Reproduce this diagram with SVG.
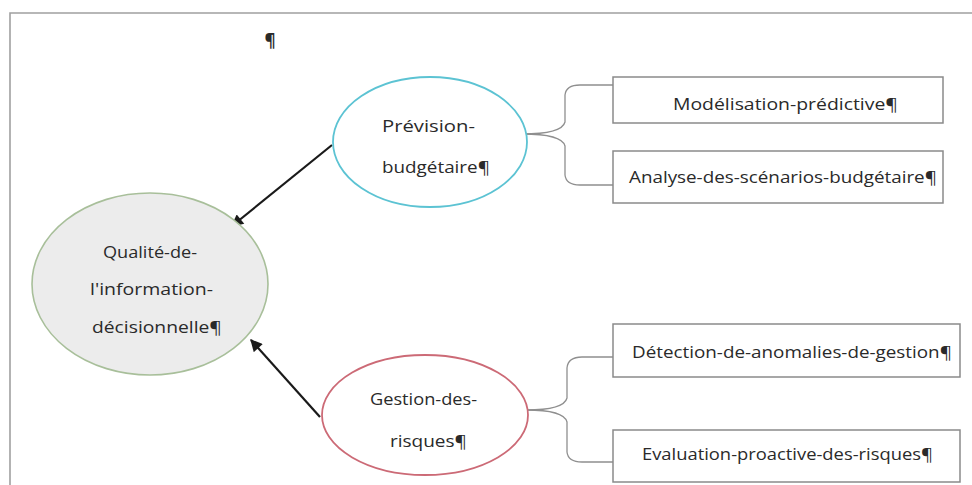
<svg xmlns="http://www.w3.org/2000/svg" width="972" height="485" viewBox="0 0 972 485">
<defs>
<marker id="ah" viewBox="0 0 10 10" refX="9" refY="5" markerWidth="6" markerHeight="5.5" orient="auto" markerUnits="strokeWidth">
<path d="M0,0 L10,5 L0,10 z" fill="#1a1a1a"/>
</marker>
<style>
text{font-family:"Open Sans","Noto Sans","Liberation Sans",sans-serif;font-size:17px;fill:#2a2a2a;}
.box{fill:#fff;stroke:#8a8a8a;stroke-width:1.5;}
.brace{fill:none;stroke:#8f8f8f;stroke-width:1.3;}
.arrow{stroke:#1a1a1a;stroke-width:2.2;fill:none;marker-end:url(#ah);}
.frame{stroke:#a0a0a0;stroke-width:1.6;fill:none;}
</style>
</defs>
<rect width="972" height="485" fill="#fff"/>
<path class="frame" d="M10,485 L10,13 L972,13"/>
<text x="270" y="47" text-anchor="middle" font-weight="bold">¶</text>

<g id="connectors">
<path class="arrow" d="M332,145 L232,226"/>
<path class="arrow" d="M320,417 L251,340"/>
<path class="brace" d="M522,134 Q562,134 565,122 L565,95 Q566,85 580,85 L613,85"/>
<path class="brace" d="M522,134 Q562,134 565,146 L565,175 Q566,185 580,185 L613,185"/>
<path class="brace" d="M526,410 Q564,410 567,398 L567,368 Q568,357 582,357 L613,357"/>
<path class="brace" d="M526,410 Q564,410 567,422 L567,452 Q568,462 582,462 L613,462"/>
</g>

<g id="qualite">
<ellipse cx="150" cy="284" rx="118" ry="91" fill="#ececec" stroke="#a8bf9a" stroke-width="1.6"/>
<text x="103" y="258" textLength="94" lengthAdjust="spacingAndGlyphs">Qualité-de-</text>
<text x="90" y="295" textLength="123" lengthAdjust="spacingAndGlyphs">l'information-</text>
<text x="92" y="333" textLength="130" lengthAdjust="spacingAndGlyphs">décisionnelle¶</text>
</g>

<g id="prevision">
<ellipse cx="430" cy="142" rx="97" ry="65" fill="#fff" stroke="#5cc3d3" stroke-width="1.8"/>
<text x="382" y="132" textLength="93" lengthAdjust="spacingAndGlyphs">Prévision-</text>
<text x="382" y="173" textLength="108" lengthAdjust="spacingAndGlyphs">budgétaire¶</text>
</g>

<g id="gestion">
<ellipse cx="425" cy="415" rx="103" ry="60" fill="#fff" stroke="#cc6a76" stroke-width="1.8"/>
<text x="370" y="405" textLength="107" lengthAdjust="spacingAndGlyphs">Gestion-des-</text>
<text x="390" y="447" textLength="77" lengthAdjust="spacingAndGlyphs">risques¶</text>
</g>

<g id="modelisation">
<rect class="box" x="613" y="77" width="330" height="46"/>
<text x="673" y="110" textLength="225" lengthAdjust="spacingAndGlyphs">Modélisation-prédictive¶</text>
</g>

<g id="analyse">
<rect class="box" x="613" y="151" width="330" height="52"/>
<text x="629" y="183" textLength="308" lengthAdjust="spacingAndGlyphs">Analyse-des-scénarios-budgétaire¶</text>
</g>

<g id="detection">
<rect class="box" x="613" y="324" width="347" height="53"/>
<text x="632" y="358" textLength="320" lengthAdjust="spacingAndGlyphs">Détection-de-anomalies-de-gestion¶</text>
</g>

<g id="evaluation">
<rect class="box" x="613" y="430" width="347" height="52"/>
<text x="642" y="460" textLength="291" lengthAdjust="spacingAndGlyphs">Evaluation-proactive-des-risques¶</text>
</g>
</svg>
